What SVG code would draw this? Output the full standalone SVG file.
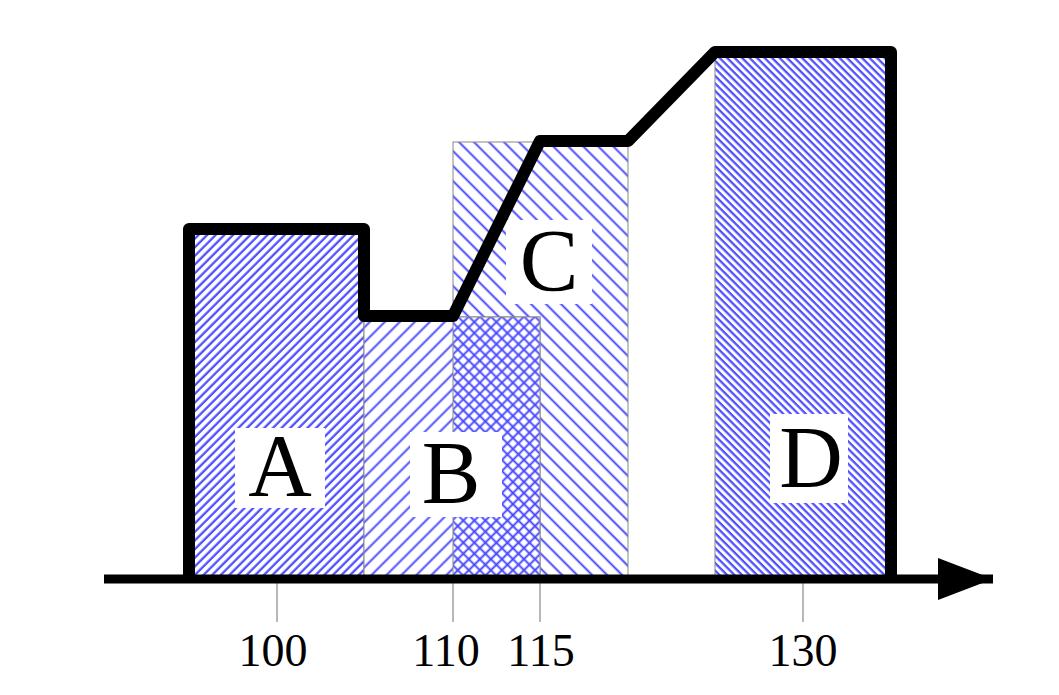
<svg xmlns="http://www.w3.org/2000/svg" width="1059" height="695" viewBox="0 0 1059 695">
<style>
.hl{stroke:#4646ff;stroke-width:1.9}
.hd{stroke:#5050ff;stroke-width:2.3}
.box{stroke:#888;stroke-width:1}
.lbl{font-family:"Liberation Serif",serif;font-size:88px;fill:#000;text-anchor:middle}
.num{font-family:"Liberation Serif",serif;font-size:46px;fill:#000;text-anchor:middle}
.tick{stroke:#888;stroke-width:1.2}
</style>
<defs>
<pattern id="pA" width="6.1" height="10" patternUnits="userSpaceOnUse" patternTransform="rotate(45)"><rect width="6.1" height="10" fill="#fff"/><line class="hd" x1="1.5" y1="0" x2="1.5" y2="10"/></pattern>
<pattern id="pB" width="10.6" height="10" patternUnits="userSpaceOnUse" patternTransform="rotate(45)"><rect width="10.6" height="10" fill="#fff"/><line class="hl" x1="1.5" y1="0" x2="1.5" y2="10"/></pattern>
<pattern id="pC" width="10.6" height="10" patternUnits="userSpaceOnUse" patternTransform="rotate(-45)"><rect width="10.6" height="10" fill="#fff"/><line class="hl" x1="1.5" y1="0" x2="1.5" y2="10"/></pattern>
<pattern id="pX" width="7.8" height="7.8" patternUnits="userSpaceOnUse" patternTransform="rotate(45)"><rect width="7.8" height="7.8" fill="#fff"/><line class="hl" x1="1.5" y1="0" x2="1.5" y2="7.8"/><line class="hl" x1="0" y1="1.5" x2="7.8" y2="1.5"/></pattern>
<pattern id="pD" width="5.3" height="10" patternUnits="userSpaceOnUse" patternTransform="rotate(-45)"><rect width="5.3" height="10" fill="#fff"/><line class="hd" x1="1.5" y1="0" x2="1.5" y2="10"/></pattern>
<marker id="arr" markerUnits="userSpaceOnUse" markerWidth="56" markerHeight="44" refX="55" refY="21" orient="auto"><path d="M0,0 L55,21 L0,42 Z" fill="#000"/></marker>
</defs>
<g id="A"><rect class="box" x="190" y="230" width="174" height="348" fill="url(#pA)"/></g>
<g id="C"><rect class="box" x="453" y="142" width="175" height="436" fill="url(#pC)"/></g>
<g id="B"><rect class="box" x="364" y="317" width="176" height="261" fill="url(#pB)"/>
<rect class="box" x="453" y="317" width="87" height="261" fill="url(#pX)"/></g>
<g id="D"><rect class="box" x="715" y="57" width="175" height="521" fill="url(#pD)"/></g>
<g id="labels">
<rect x="235" y="428" width="90" height="80" fill="#fff"/>
<text class="lbl" x="280" y="495">A</text>
<rect x="410" y="432" width="92" height="85" fill="#fff"/>
<text class="lbl" x="451" y="502">B</text>
<rect x="506" y="220" width="86" height="84" fill="#fff"/>
<text class="lbl" x="549" y="290">C</text>
<rect x="770" y="414" width="78" height="89" fill="#fff"/>
<text class="lbl" x="811" y="487">D</text>
</g>
<g id="connectors">
<line class="tick" x1="277" y1="582" x2="277" y2="622"/>
<line class="tick" x1="453" y1="582" x2="453" y2="622"/>
<line class="tick" x1="540" y1="582" x2="540" y2="622"/>
<line class="tick" x1="803" y1="582" x2="803" y2="622"/>
<line x1="104" y1="579" x2="993" y2="579" stroke="#000" stroke-width="9" marker-end="url(#arr)"/>
<path d="M189,578 L189,229 L364,229 L364,316 L453,316 L540,141 L628,141 L715,52 L891,52 L891,578" fill="none" stroke="#000" stroke-width="12" stroke-linejoin="round"/>
</g>
<g id="ticklabels">
<text class="num" x="273" y="666">100</text>
<text class="num" x="446" y="666">110</text>
<text class="num" x="541" y="666">115</text>
<text class="num" x="803" y="666">130</text>
</g>
</svg>
